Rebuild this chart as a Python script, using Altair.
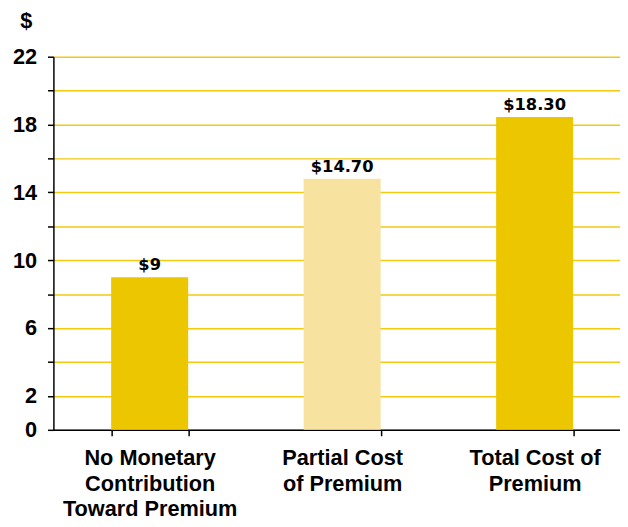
import altair as alt
import pandas as pd

categories = ["No Monetary|Contribution|Toward Premium", "Partial Cost|of Premium", "Total Cost of|Premium"]
values = [9.0, 14.8, 18.45]
value_labels = ["$9", "$14.70", "$18.30"]
bar_colors = ["#ECC700", "#F7E2A0", "#ECC700"]
y_ticks = [0, 2, 4, 6, 8, 10, 12, 14, 16, 18, 20, 22]
y_labeled = [0, 2, 6, 10, 14, 18, 22]

df = pd.DataFrame({"cat": categories, "val": values, "lab": value_labels, "col": bar_colors})

FONT = "Liberation Sans"
labeled_expr = "indexof([" + ",".join(str(v) for v in y_labeled) + "], datum.value) >= 0 ? datum.label : ''"

x = alt.X("cat:N", sort=categories, title=None,
          scale=alt.Scale(paddingInner=0.6, paddingOuter=0.3, range=[0, 585]),
          axis=alt.Axis(labelExpr="split(datum.label, '|')", labelAngle=0, labelFont=FONT,
                        labelFontSize=22, labelFontWeight="bold", labelColor="#000000",
                        labelLineHeight=26, labelPadding=12, tickBand="extent",
                        tickColor="#000000", tickSize=6, tickWidth=1.5, labelOverlap=False,
                        domainColor="#000000", domainWidth=1.5, grid=False))

y = alt.Y("val:Q", scale=alt.Scale(domain=[0, 22], nice=False),
          axis=alt.Axis(values=y_ticks, labelExpr=labeled_expr, title="$", titleAngle=0,
                        titleX=-28, titleY=-30, titleFont=FONT, titleFontSize=22,
                        titleFontWeight="bold", titleColor="#000000", titleAlign="center",
                        titleBaseline="alphabetic",
                        labelFont=FONT, labelFontSize=22, labelFontWeight="bold",
                        labelColor="#000000", labelPadding=11, labelOverlap=False,
                        labelFlush=False, tickColor="#000000",
                        tickSize=6, tickWidth=1.5, domainColor="#000000", domainWidth=1.5,
                        grid=True, gridColor="#F2CA10", gridWidth=1.5, gridOpacity=1))

base = alt.Chart(df).encode(x=x, y=y)
bars = base.mark_bar().encode(color=alt.Color("col:N", scale=None))
text = base.mark_text(dy=-7, baseline="alphabetic", font="DejaVu Sans", fontSize=16.5,
                      fontWeight="bold", color="#000000").encode(text="lab:N")

chart = (bars + text).properties(
    width=574, height=378,
    autosize=alt.AutoSizeParams(type="none"),
    padding={"left": 46, "top": 46, "right": 0, "bottom": 87},
).configure_view(stroke=None)

chart.save("out.html", embed_options={"renderer": "svg", "actions": False})
